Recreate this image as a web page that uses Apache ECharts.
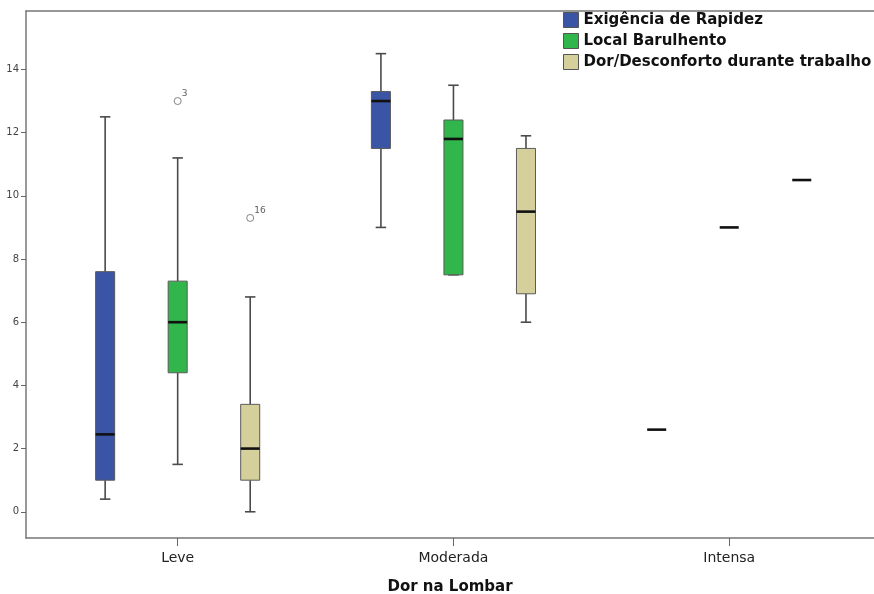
<!DOCTYPE html>
<html>
<head>
<meta charset="utf-8">
<script src="https://cdn.jsdelivr.net/npm/echarts@6/dist/echarts.min.js"></script>
<style>html,body{margin:0;padding:0;background:#fff}#c{width:874px;height:594px}</style>
</head>
<body>
<div id="c"></div>
<script>
// ---- data ----
const categories = ['Leve', 'Moderada', 'Intensa'];
const seriesNames = ['Exigência de Rapidez', 'Local Barulhento', 'Dor/Desconforto durante trabalho'];
// [min, Q1, median, Q3, max] per category
const exigencia = [[0.4, 1.0, 2.45, 7.6, 12.5], [9.0, 11.5, 13.0, 13.3, 14.5], [2.6, 2.6, 2.6, 2.6, 2.6]];
const local = [[1.5, 4.4, 6.0, 7.3, 11.2], [7.5, 7.5, 11.8, 12.4, 13.5], [9.0, 9.0, 9.0, 9.0, 9.0]];
const dor = [[0.0, 1.0, 2.0, 3.4, 6.8], [6.0, 6.9, 9.5, 11.5, 11.9], [10.5, 10.5, 10.5, 10.5, 10.5]];
// outliers: [categoryIndex, value, case label]
const exigenciaOut = [];
const localOut = [[0, 13.0, '3']];
const dorOut = [[0, 9.3, '16']];
const yTicks = [0, 2, 4, 6, 8, 10, 12, 14];

const allStats = [exigencia, local, dor];
const allOut = [exigenciaOut, localOut, dorOut];
const colors = ['#3b55a6', '#30b64a', '#d5d09b'];
const offsets = [-0.263, 0, 0.263];
const BOX_HALF = 0.0345, CAP_HALF = 0.019;

function makeRender(off) {
  return function (params, api) {
    const x = api.value(0) + off;
    const vmin = api.value(1), q1 = api.value(2), med = api.value(3), q3 = api.value(4), vmax = api.value(5);
    const unit = api.size([1, 0])[0];
    const bh = unit * BOX_HALF, ch = unit * CAP_HALF;
    const pMin = api.coord([x, vmin]), pQ1 = api.coord([x, q1]), pMed = api.coord([x, med]),
          pQ3 = api.coord([x, q3]), pMax = api.coord([x, vmax]);
    const cx = pMed[0];
    const wStyle = { stroke: '#4a4a4a', lineWidth: 1.6 };
    const children = [];
    if (vmax > vmin) {
      children.push({ type: 'line', shape: { x1: cx, y1: pQ3[1], x2: cx, y2: pMax[1] }, style: wStyle });
      children.push({ type: 'line', shape: { x1: cx - ch, y1: pMax[1], x2: cx + ch, y2: pMax[1] }, style: wStyle });
      children.push({ type: 'line', shape: { x1: cx, y1: pMin[1], x2: cx, y2: pQ1[1] }, style: wStyle });
      children.push({ type: 'line', shape: { x1: cx - ch, y1: pMin[1], x2: cx + ch, y2: pMin[1] }, style: wStyle });
      children.push({ type: 'rect', shape: { x: cx - bh, y: pQ3[1], width: 2 * bh, height: pQ1[1] - pQ3[1] },
        style: { fill: api.visual('color'), stroke: '#5a5a5a', lineWidth: 1 } });
    }
    children.push({ type: 'line', shape: { x1: cx - bh, y1: pMed[1], x2: cx + bh, y2: pMed[1] },
      style: { stroke: '#111', lineWidth: 2.6 } });
    return { type: 'group', children: children };
  };
}

const series = [];
allStats.forEach(function (stats, si) {
  series.push({
    name: seriesNames[si],
    type: 'custom',
    itemStyle: { color: colors[si] },
    encode: { x: 0, y: [1, 2, 3, 4, 5] },
    data: stats.map(function (s, ci) { return [ci].concat(s); }),
    renderItem: makeRender(offsets[si]),
    z: 3
  });
  if (allOut[si].length) {
    series.push({
      type: 'scatter',
      symbol: 'circle',
      symbolSize: 7,
      itemStyle: { color: '#fff', borderColor: '#666', borderWidth: 1 },
      data: allOut[si].map(function (o) { return [o[0] + offsets[si], o[1], o[2]]; }),
      label: { show: true, position: [8, -8], formatter: function (p) { return p.value[2]; },
        fontSize: 9, color: '#333', fontFamily: 'DejaVu Sans' },
      z: 4
    });
  }
});

const chart = echarts.init(document.getElementById('c'), null, { renderer: 'canvas' });
chart.setOption({
  animation: false,
  backgroundColor: '#fff',
  grid: { left: 26, top: 11, bottom: 56, right: 0, show: false, outerBoundsMode: 'none', containLabel: false },
  legend: {
    orient: 'vertical', left: 563, top: 12, padding: 0, itemWidth: 15, itemHeight: 15, itemGap: 5,
    data: seriesNames.map(function (n, i) {
      return { name: n, icon: 'rect', itemStyle: { color: colors[i], borderColor: '#555', borderWidth: 1 } };
    }),
    textStyle: { fontFamily: 'DejaVu Sans', fontWeight: 'bold', fontSize: 15, lineHeight: 15, color: '#111' },
    selectedMode: false
  },
  xAxis: [{
    type: 'value', min: -0.55, max: 2.525,
    name: 'Dor na Lombar', nameLocation: 'middle', nameGap: 42,
    nameTextStyle: { fontFamily: 'DejaVu Sans', fontWeight: 'bold', fontSize: 15, color: '#111' },
    splitLine: { show: false },
    axisLine: { show: true, onZero: false, lineStyle: { color: '#777', width: 1.5 } },
    axisTick: { show: true, length: 8, customValues: [0, 1, 2], lineStyle: { color: '#666' } },
    axisLabel: { customValues: [0, 1, 2], margin: 13, fontFamily: 'DejaVu Sans', fontSize: 14, color: '#222',
      formatter: function (v) { return categories[Math.round(v)]; } }
  }, {
    type: 'value', position: 'top', min: -0.55, max: 2.525,
    splitLine: { show: false }, axisTick: { show: false }, axisLabel: { show: false },
    axisLine: { show: true, onZero: false, lineStyle: { color: '#777', width: 1.5 } }
  }],
  yAxis: {
    type: 'value', min: -0.83, max: 15.85,
    splitLine: { show: false },
    axisLine: { show: true, onZero: false, lineStyle: { color: '#777', width: 1.5 } },
    axisTick: { show: true, length: 5, customValues: yTicks, lineStyle: { color: '#666' } },
    axisLabel: { customValues: yTicks, margin: 7, fontFamily: 'DejaVu Sans', fontSize: 10, color: '#444' }
  },
  series: series
});
</script>
</body>
</html>
